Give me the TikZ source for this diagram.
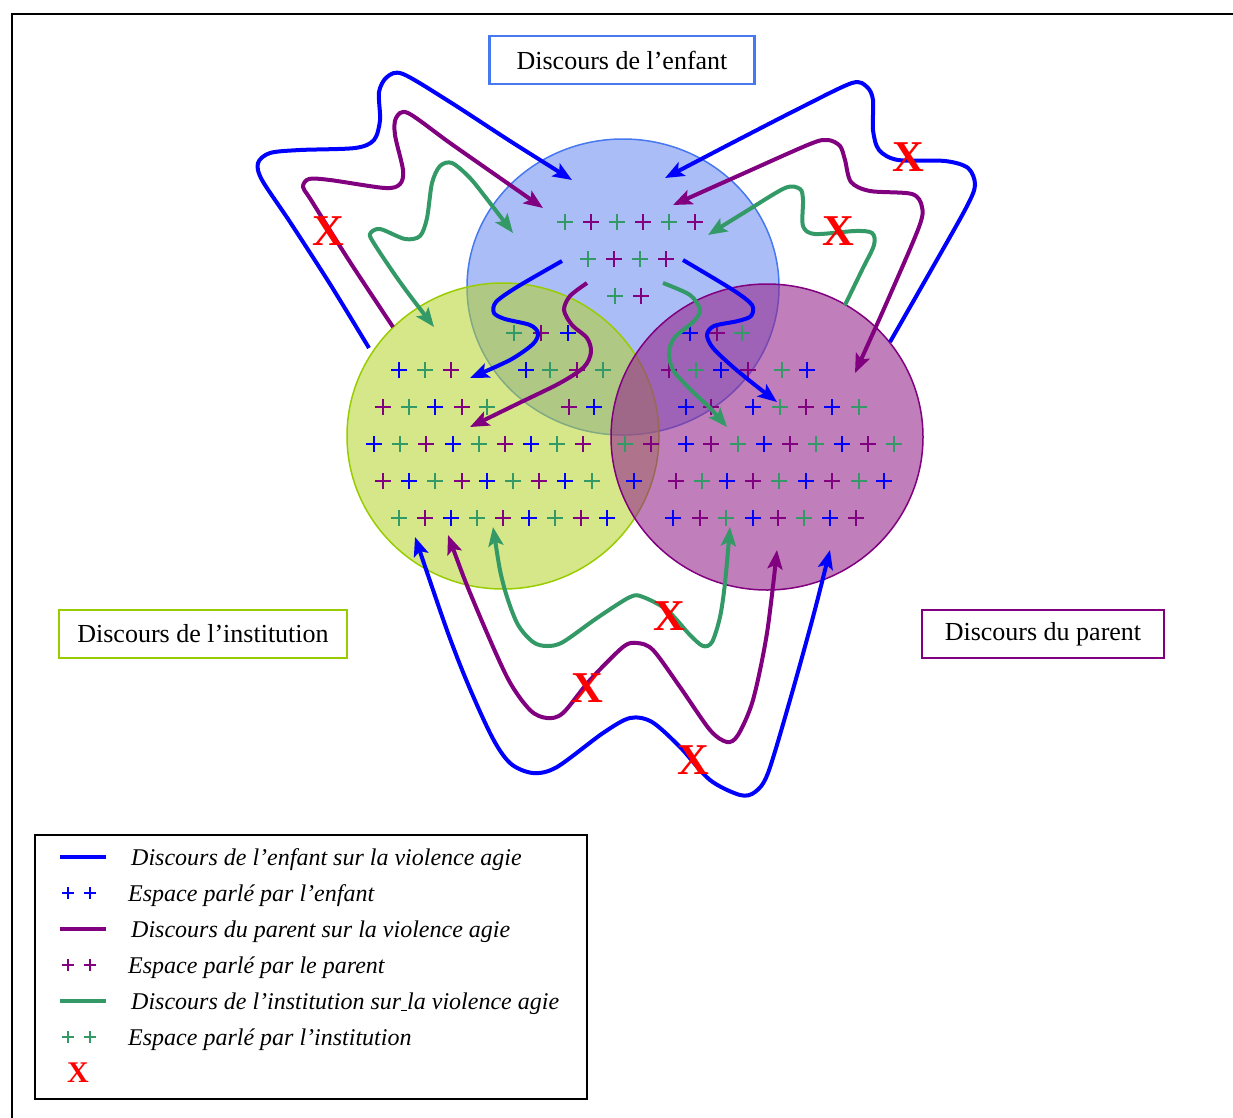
\documentclass[tikz,border=0pt]{standalone}
\usepackage{fontspec}
\setmainfont{Liberation Serif}
\usepackage{tikz}
\usetikzlibrary{arrows.meta}

\definecolor{enfant}{RGB}{0,0,255}
\definecolor{parent}{RGB}{128,0,128}
\definecolor{inst}{RGB}{51,153,102}
\definecolor{enfantbord}{RGB}{70,120,240}
\definecolor{instbord}{RGB}{153,204,0}
\definecolor{enfantfond}{RGB}{115,145,240}
\definecolor{instfond}{RGB}{180,212,40}
\definecolor{parentfond}{RGB}{150,40,140}

\begin{document}
\begin{tikzpicture}[x=1pt, y=-1pt, every node/.style={inner sep=0pt},
    fleche/.style={line width=4pt, -{Stealth[length=19pt,width=15pt,inset=4pt]}},
    deuxsens/.style={line width=4pt, {Stealth[length=19pt,width=15pt,inset=4pt]}-{Stealth[length=19pt,width=15pt,inset=4pt]}},
    croix/.style={text=red, font=\fontsize{44}{44}\selectfont\bfseries},
    titre/.style={draw, line width=2.5pt, minimum height=48pt, font=\fontsize{26}{30}\selectfont},
    legende/.style={anchor=base west, font=\fontsize{24}{28}\selectfont\itshape},
    signe/.style={line width=1.1pt}]
\useasboundingbox (0,0) rectangle (1233,1117);
\draw[line width=2pt] (12,1130) -- (12,14) -- (1250,14);

% les trois espaces
\fill[enfantfond, fill opacity=0.6] (623,287) ellipse [x radius=156, y radius=148];
\draw[enfantbord, line width=1.5pt] (623,287) ellipse [x radius=156, y radius=148];
\fill[instfond, fill opacity=0.55] (503,436) ellipse [x radius=156, y radius=153];
\draw[instbord, line width=1.5pt] (503,436) ellipse [x radius=156, y radius=153];
\fill[parentfond, fill opacity=0.6] (767,437) ellipse [x radius=156, y radius=153];
\draw[parent, line width=1.5pt] (767,437) ellipse [x radius=156, y radius=153];

% espaces parles
\foreach \x/\col in {565/inst,591/parent,617/inst,643/parent,669/inst,695/parent}
  \draw[signe,\col] (\x,222) +(-8,0) -- +(8,0) +(0,-8) -- +(0,8);
\foreach \x/\col in {588/inst,614/parent,640/inst,666/parent}
  \draw[signe,\col] (\x,259) +(-8,0) -- +(8,0) +(0,-8) -- +(0,8);
\foreach \x/\col in {615/inst,641/parent}
  \draw[signe,\col] (\x,296) +(-8,0) -- +(8,0) +(0,-8) -- +(0,8);
\foreach \x/\col in {514/inst,541/parent,568/enfant,690/enfant,717/parent,742/inst}
  \draw[signe,\col] (\x,333) +(-8,0) -- +(8,0) +(0,-8) -- +(0,8);
\foreach \x/\col in {399/enfant,425/inst,451/parent,526/enfant,550/inst,577/parent,603/inst,669/parent,696/inst,721/enfant,748/parent,782/inst,807/enfant}
  \draw[signe,\col] (\x,370) +(-8,0) -- +(8,0) +(0,-8) -- +(0,8);
\foreach \x/\col in {383/parent,409/inst,435/enfant,462/parent,487/inst,569/parent,594/enfant,686/enfant,711/parent,753/enfant,780/inst,806/parent,832/enfant,859/inst}
  \draw[signe,\col] (\x,407) +(-8,0) -- +(8,0) +(0,-8) -- +(0,8);
\foreach \x/\col in {374/enfant,400/inst,426/parent,453/enfant,479/inst,505/parent,531/enfant,557/inst,583/parent,625/inst,651/parent,686/enfant,711/parent,738/inst,764/enfant,790/parent,816/inst,842/enfant,868/parent,894/inst}
  \draw[signe,\col] (\x,444) +(-8,0) -- +(8,0) +(0,-8) -- +(0,8);
\foreach \x/\col in {383/parent,409/enfant,435/inst,462/parent,487/enfant,513/inst,539/parent,565/enfant,592/inst,634/enfant,676/parent,702/inst,727/enfant,753/parent,779/inst,806/enfant,832/parent,859/inst,884/enfant}
  \draw[signe,\col] (\x,481) +(-8,0) -- +(8,0) +(0,-8) -- +(0,8);
\foreach \x/\col in {399/inst,425/parent,451/enfant,477/inst,503/parent,529/enfant,555/inst,581/parent,607/enfant,673/enfant,700/parent,726/inst,753/enfant,778/parent,804/inst,830/enfant,856/parent}
  \draw[signe,\col] (\x,518) +(-8,0) -- +(8,0) +(0,-8) -- +(0,8);

% titres
\node[titre, draw=enfantbord, minimum width=265pt] (E) at (622,60) {Discours de l’enfant};
\node[titre, draw=instbord, minimum width=288pt] (I) at (203,634) {Discours de l’institution};
\node[titre, draw=parent, minimum width=242pt] (P) at (1043,634) {Discours du parent};

% bouts des discours
\coordinate (a1) at (369,348); \coordinate (a2) at (572,180);
\coordinate (b1) at (393,327); \coordinate (b2) at (543,208);
\coordinate (c1) at (434,327); \coordinate (c2) at (513,233);
\coordinate (d1) at (890,342); \coordinate (d2) at (665,178);
\coordinate (e1) at (855,373); \coordinate (e2) at (673,205);
\coordinate (f1) at (845,305); \coordinate (f2) at (708,235);
\coordinate (g1) at (562,261); \coordinate (g2) at (470,378);
\coordinate (h1) at (587,283); \coordinate (h2) at (470,427);
\coordinate (i1) at (663,283); \coordinate (i2) at (727,427);
\coordinate (j1) at (683,260); \coordinate (j2) at (777,402);
\coordinate (k1) at (415,537); \coordinate (k2) at (830,550);
\coordinate (l1) at (448,535); \coordinate (l2) at (777,550);
\coordinate (m1) at (493,527); \coordinate (m2) at (730,527);

% en haut a gauche
\draw[fleche, enfant] plot[smooth, tension=0.5] coordinates {(a1) (330,284) (290,222) (262,180) (258,163) (270,153) (300,150) (355,148) (374,140) (380,120) (379,92) (387,77) (403,74) (450,102) (510,141) (a2)};
\draw[fleche, parent] plot[smooth, tension=0.5] coordinates {(b1) (350,262) (311,200) (303,187) (309,179) (330,180) (385,188) (400,184) (403,170) (395,135) (396,118) (408,113) (450,143) (500,178) (b2)};
\draw[deuxsens, inst] plot[smooth, tension=0.5] coordinates {(c1) (400,282) (375,245) (370,234) (380,229) (405,239) (420,236) (427,218) (432,183) (440,166) (452,163) (470,178) (490,203) (c2)};
% en haut a droite
\draw[fleche, enfant] plot[smooth, tension=0.5] coordinates {(d1) (930,272) (966,208) (975,185) (968,168) (945,161) (898,160) (879,150) (873,130) (873,100) (867,87) (852,83) (800,108) (730,144) (d2)};
\draw[deuxsens, parent] plot[smooth, tension=0.5] coordinates {(e1) (890,295) (919,227) (922,207) (912,194) (870,191) (851,182) (845,160) (840,146) (828,140) (810,144) (740,175) (e2)};
\draw[fleche, inst] plot[smooth, tension=0.5] coordinates {(f1) (862,270) (874,245) (872,233) (855,231) (815,234) (803,226) (803,200) (800,189) (785,188) (745,212) (f2)};
% au centre
\draw[fleche, enfant] plot[smooth, tension=0.5] coordinates {(g1) (517,287) (496,302) (494,313) (505,319) (530,325) (538,333) (533,344) (510,360) (g2)};
\draw[fleche, parent] plot[smooth, tension=0.5] coordinates {(h1) (570,296) (564,310) (572,325) (587,338) (591,352) (584,367) (560,383) (515,405) (h2)};
\draw[fleche, inst] plot[smooth, tension=0.5] coordinates {(i1) (690,295) (700,310) (693,322) (675,337) (669,352) (673,370) (690,389) (710,408) (i2)};
\draw[fleche, enfant] plot[smooth, tension=0.5] coordinates {(j1) (733,290) (752,305) (751,316) (738,321) (714,326) (707,335) (713,348) (733,367) (755,385) (j2)};
% en bas
\draw[deuxsens, enfant] plot[smooth, tension=0.5] coordinates {(k1) (457,657) (490,733) (510,763) (533,773) (557,767) (603,733) (630,718) (652,722) (680,747) (710,780) (740,795) (755,792) (768,773) (790,700) (813,617) (k2)};
\draw[deuxsens, parent] plot[smooth, tension=0.5] coordinates {(l1) (473,600) (507,677) (530,710) (547,718) (563,713) (590,680) (623,647) (637,643) (653,650) (680,687) (710,730) (727,742) (738,735) (753,700) (767,633) (l2)};
\draw[deuxsens, inst] plot[smooth, tension=0.5] coordinates {(m1) (503,583) (517,623) (533,642) (547,646) (563,642) (597,618) (630,597) (643,597) (667,610) (690,635) (703,646) (712,642) (720,617) (725,583) (m2)};

% ruptures
\node[croix] (x1) at (328,231) {X};
\node[croix] (x2) at (838,231) {X};
\node[croix] (x3) at (908,157) {X};
\node[croix] (x4) at (669,616) {X};
\node[croix] (x5) at (587,688) {X};
\node[croix] (x6) at (693,760) {X};

% legende
\draw[line width=2pt] (35,835) rectangle (587,1099);
\draw[enfant, line width=4pt] (60,857) -- (106,857);
\node[legende] (l1) at (131,865) {Discours de l’enfant sur la violence agie};
\foreach \x in {68,90} \draw[signe,enfant] (\x,893) +(-6,0) -- +(6,0) +(0,-6) -- +(0,6);
\node[legende] (l2) at (128,901) {Espace parlé par l’enfant};
\draw[parent, line width=4pt] (60,929) -- (106,929);
\node[legende] (l3) at (131,937) {Discours du parent sur la violence agie};
\foreach \x in {68,90} \draw[signe,parent] (\x,965) +(-6,0) -- +(6,0) +(0,-6) -- +(0,6);
\node[legende] (l4) at (128,973) {Espace parlé par le parent};
\draw[inst, line width=4pt] (60,1001) -- (106,1001);
\node[legende] (l5) at (131,1009) {Discours de l’institution sur\underline{\ }la violence agie};
\foreach \x in {68,90} \draw[signe,inst] (\x,1037) +(-6,0) -- +(6,0) +(0,-6) -- +(0,6);
\node[legende] (l6) at (128,1045) {Espace parlé par l’institution};
\node[croix, font=\fontsize{30}{30}\selectfont\bfseries] (x0) at (78,1073) {X};
\end{tikzpicture}
\end{document}
